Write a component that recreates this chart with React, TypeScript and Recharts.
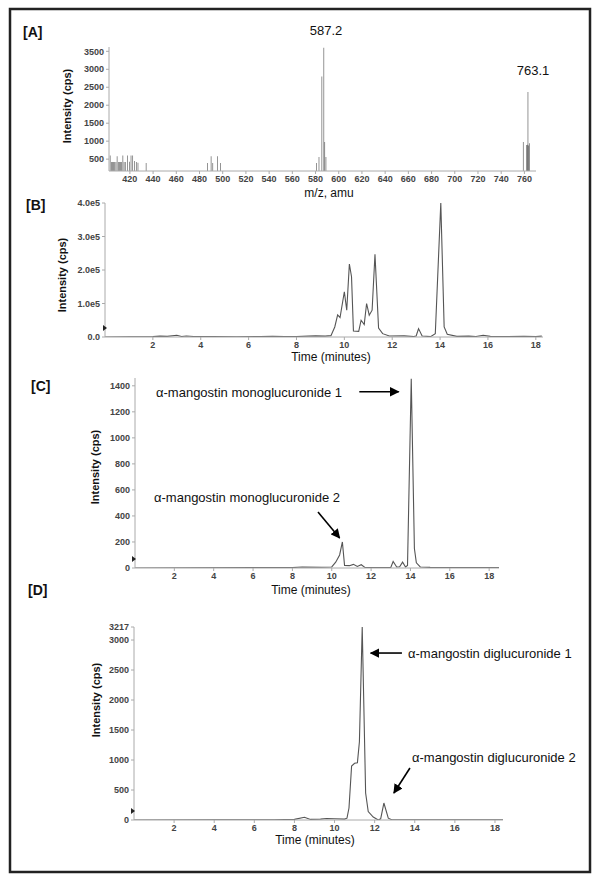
import {
  BarChart,
  Bar,
  LineChart,
  Line,
  XAxis,
  YAxis,
  ReferenceLine,
} from "recharts";

// [A] mass spectrum (m/z, intensity)
const spectrumMz = [
  403, 404, 405, 406, 407, 408, 409, 410, 411, 412, 413, 414, 415, 416, 418,
  419.5, 421, 422.5, 424, 425.5, 427, 434, 487, 490, 491.5, 495.6, 498, 581,
  583, 585.5, 587.2, 588, 589, 759, 762, 762.6, 763.1, 763.7, 764.3,
];
const spectrumIntensity = [
  600, 420, 420, 420, 420, 420, 580, 420, 420, 420, 420, 600, 420, 420, 600,
  430, 600, 600, 450, 420, 400, 390, 390, 580, 390, 580, 390, 390, 560, 2800,
  3600, 980, 560, 980, 890, 900, 2370, 880, 940,
];
const mzTicks = [
  420, 440, 460, 480, 500, 520, 540, 560, 580, 600, 620, 640, 660, 680, 700,
  720, 740, 760,
];
const spectrumYTicks = [500, 1000, 1500, 2000, 2500, 3000, 3500];

// [B] total ion chromatogram
const ticMinutes = [
  0, 1, 2, 2.3, 2.6, 3, 3.2, 3.4, 3.7, 4.5, 5.5, 6.5, 7, 7.5, 8, 8.5, 8.8, 9.2,
  9.44, 9.6, 9.72, 9.82, 10.0, 10.1, 10.21, 10.3, 10.38, 10.6, 10.7, 10.83,
  10.93, 11.04, 11.16, 11.28, 11.43, 11.6, 11.88, 12.5, 12.9, 13.0, 13.1, 13.25,
  13.6, 13.8, 14.03, 14.17, 14.3, 14.7, 15.2, 15.5, 15.8, 16.1, 16.8, 17.5, 18,
  18.25,
];
const ticIntensity = [
  0, 500, 1500, 2500, 2000, 5000, 1500, 3000, 1500, 1000, 800, 1200, 2000, 1000,
  1500, 2500, 3500, 2500, 4000, 30000, 66000, 58000, 135000, 80000, 218000,
  180000, 18000, 17000, 50000, 37000, 100000, 65000, 80000, 247000, 27000,
  10000, 3000, 3500, 1500, 3000, 25000, 3000, 1000, 10000, 400000, 30000, 8000,
  2000, 2500, 1500, 5000, 2000, 1500, 2000, 1000, 2500,
];
const ticYTicks = [0, 100000, 200000, 300000, 400000];

// [C] monoglucuronide extracted chromatogram
const monoMinutes = [
  0, 3, 6, 8, 8.5, 9.5, 10.0, 10.2, 10.4, 10.54, 10.65, 10.9, 11.1, 11.3, 11.5,
  11.7, 12.5, 13.0, 13.12, 13.3, 13.45, 13.6, 13.75, 13.85, 14.04, 14.2, 14.3,
  14.5, 15, 16, 18.5,
];
const monoIntensity = [
  0, 2, 3, 3, 8, 6, 8, 45, 100, 200, 20, 18, 28, 12, 25, 3, 3, 5, 50, 8, 10,
  45, 8, 20, 1455, 150, 40, 8, 5, 3, 3,
];
const monoYTicks = [0, 200, 400, 600, 800, 1000, 1200, 1400];

// [D] diglucuronide extracted chromatogram
const diMinutes = [
  0, 4, 7, 8, 8.5, 8.8, 9.3, 9.6, 10, 10.5, 10.62, 10.72, 10.85, 11.0, 11.14,
  11.24, 11.38, 11.55, 11.68, 11.93, 12.18, 12.3, 12.46, 12.68, 12.85, 13.5, 15,
  18.4,
];
const diIntensity = [
  0, 2, 5, 10, 45, 10, 15, 25, 20, 15, 30, 200, 900, 945, 955, 1305, 3217, 450,
  140, 50, 0, 20, 283, 30, 5, 3, 3, 5,
];
const diYTicks = [0, 500, 1000, 1500, 2000, 2500, 3000, 3217];

const timeTicks = [2, 4, 6, 8, 10, 12, 14, 16, 18];

const spectrumData = spectrumMz.map((mz, i) => ({ mz, v: spectrumIntensity[i] }));
const ticData = ticMinutes.map((t, i) => ({ t, v: ticIntensity[i] }));
const monoData = monoMinutes.map((t, i) => ({ t, v: monoIntensity[i] }));
const diData = diMinutes.map((t, i) => ({ t, v: diIntensity[i] }));

const FONT = "'Liberation Sans', Arial, sans-serif";
const tickStyle = { fontSize: 9, fontWeight: "bold", fill: "#444", fontFamily: FONT };
const axisLine = { stroke: "#aaa" };
const tickLine = { stroke: "#aaa" };

const arrowShape = (p: any) => (
  <line
    x1={p.x1}
    y1={p.y1}
    x2={p.x2}
    y2={p.y2}
    stroke="#000"
    strokeWidth={1.6}
    markerEnd="url(#arrowHead)"
  />
);

interface ChromProps {
  data: { t: number; v: number }[];
  top: number;
  height: number;
  plotLeft: number;
  plotRight: number;
  plotTop: number;
  plotBottom: number;
  xMax: number;
  yMax: number;
  yTicks: number[];
  yFormat?: (v: number) => string;
  children?: React.ReactNode;
}

const Chromatogram = ({
  data,
  top,
  height,
  plotLeft,
  plotRight,
  plotTop,
  plotBottom,
  xMax,
  yMax,
  yTicks,
  yFormat,
  children,
}: ChromProps) => (
  <div style={{ position: "absolute", left: 0, top }}>
    <LineChart
      width={602}
      height={height}
      data={data}
      margin={{
        top: plotTop - top,
        left: 0,
        right: 602 - plotRight,
        bottom: top + height - plotBottom - 20,
      }}
    >
      <XAxis
        dataKey="t"
        type="number"
        domain={[0, xMax]}
        ticks={timeTicks}
        interval={0}
        height={20}
        tick={tickStyle}
        tickSize={3}
        axisLine={axisLine}
        tickLine={tickLine}
        allowDataOverflow
      />
      <YAxis
        type="number"
        domain={[0, yMax]}
        ticks={yTicks}
        interval={0}
        width={plotLeft}
        tick={tickStyle}
        tickSize={3}
        tickFormatter={yFormat}
        axisLine={axisLine}
        tickLine={tickLine}
        allowDataOverflow
      />
      <Line
        dataKey="v"
        type="linear"
        stroke="#555"
        strokeWidth={1.1}
        dot={false}
        isAnimationActive={false}
      />
      {children}
    </LineChart>
  </div>
);

const YTitle = ({ x, y }: { x: number; y: number }) => (
  <text
    x={x}
    y={y}
    transform={`rotate(-90 ${x} ${y})`}
    textAnchor="middle"
    dominantBaseline="central"
    fontSize={11}
    fontWeight="bold"
    fill="#111"
  >
    Intensity (cps)
  </text>
);

export default function App() {
  return (
    <div
      style={{
        position: "absolute",
        left: 0,
        top: 0,
        width: 602,
        height: 884,
        background: "#fff",
        fontFamily: FONT,
      }}
    >
      {/* [A] */}
      <div style={{ position: "absolute", left: 0, top: 0 }}>
        <BarChart
          width={602}
          height={200}
          data={spectrumData}
          barSize={1.5}
          margin={{ top: 47, left: 0, right: 66, bottom: 9 }}
        >
          <XAxis
            dataKey="mz"
            type="number"
            domain={[402, 770]}
            ticks={mzTicks}
            interval={0}
            height={20}
            tick={tickStyle}
            tickSize={3}
            axisLine={axisLine}
            tickLine={tickLine}
            allowDataOverflow
          />
          <YAxis
            type="number"
            domain={[170, 3620]}
            ticks={spectrumYTicks}
            interval={0}
            width={109}
            tick={tickStyle}
            tickSize={3}
            axisLine={axisLine}
            tickLine={tickLine}
            allowDataOverflow
          />
          <Bar dataKey="v" fill="#333" isAnimationActive={false} />
        </BarChart>
      </div>

      {/* [B] */}
      <Chromatogram
        data={ticData}
        top={190}
        height={170}
        plotLeft={105}
        plotRight={543}
        plotTop={203}
        plotBottom={337}
        xMax={18.3}
        yMax={400000}
        yTicks={ticYTicks}
        yFormat={(v) => (v === 0 ? "0.0" : `${(v / 100000).toFixed(1)}e5`)}
      />

      {/* [C] */}
      <Chromatogram
        data={monoData}
        top={365}
        height={225}
        plotLeft={135}
        plotRight={499}
        plotTop={378}
        plotBottom={568}
        xMax={18.5}
        yMax={1460}
        yTicks={monoYTicks}
      >
        <ReferenceLine
          segment={[
            { x: 11.4, y: 1354 },
            { x: 13.4, y: 1354 },
          ]}
          shape={arrowShape}
        />
        <ReferenceLine
          segment={[
            { x: 9.3, y: 431 },
            { x: 10.4, y: 231 },
          ]}
          shape={arrowShape}
        />
      </Chromatogram>

      {/* [D] */}
      <Chromatogram
        data={diData}
        top={615}
        height={230}
        plotLeft={134}
        plotRight={503}
        plotTop={627}
        plotBottom={820}
        xMax={18.4}
        yMax={3217}
        yTicks={diYTicks}
      >
        <ReferenceLine
          segment={[
            { x: 13.36, y: 2783 },
            { x: 11.8, y: 2783 },
          ]}
          shape={arrowShape}
        />
        <ReferenceLine
          segment={[
            { x: 13.76, y: 867 },
            { x: 12.96, y: 450 },
          ]}
          shape={arrowShape}
        />
      </Chromatogram>

      <svg
        width={602}
        height={884}
        style={{ position: "absolute", left: 0, top: 0, pointerEvents: "none" }}
        fontFamily={FONT}
      >
        <defs>
          <marker
            id="arrowHead"
            viewBox="0 0 10 10"
            refX={9}
            refY={5}
            markerWidth={6}
            markerHeight={6}
            orient="auto"
            markerUnits="strokeWidth"
          >
            <path d="M0,0 L10,5 L0,10 z" fill="#000" />
          </marker>
        </defs>
        <rect x={10} y={9} width={580} height={863} fill="none" stroke="#222" strokeWidth={2.5} />

        <g fontSize={14} fontWeight="bold" fill="#111" dominantBaseline="central">
          <text x={23} y={32}>[A]</text>
          <text x={26} y={205}>[B]</text>
          <text x={31} y={386}>[C]</text>
          <text x={28} y={590}>[D]</text>
        </g>

        <g fontSize={13} fill="#111" textAnchor="middle" dominantBaseline="central">
          <text x={326} y={30}>587.2</text>
          <text x={533} y={70}>763.1</text>
        </g>

        <g fontSize={12} fill="#111" textAnchor="middle" dominantBaseline="central">
          <text x={329} y={193}>m/z, amu</text>
          <text x={331} y={357}>Time (minutes)</text>
          <text x={311} y={590}>Time (minutes)</text>
          <text x={315} y={840}>Time (minutes)</text>
        </g>

        <YTitle x={67} y={106} />
        <YTitle x={62} y={275} />
        <YTitle x={95} y={467} />
        <YTitle x={96} y={700} />

        <g fontSize={13} fill="#111" dominantBaseline="central">
          <text x={156} y={392}>α-mangostin monoglucuronide 1</text>
          <text x={154} y={497}>α-mangostin monoglucuronide 2</text>
          <text x={408} y={653}>α-mangostin diglucuronide 1</text>
          <text x={412} y={757}>α-mangostin diglucuronide 2</text>
        </g>

        <g fill="#222">
          <path d="M103,325 L107,328 L103,331 z" />
          <path d="M132,556 L136,559 L132,562 z" />
          <path d="M131,808 L135,811 L131,814 z" />
        </g>
      </svg>
    </div>
  );
}
